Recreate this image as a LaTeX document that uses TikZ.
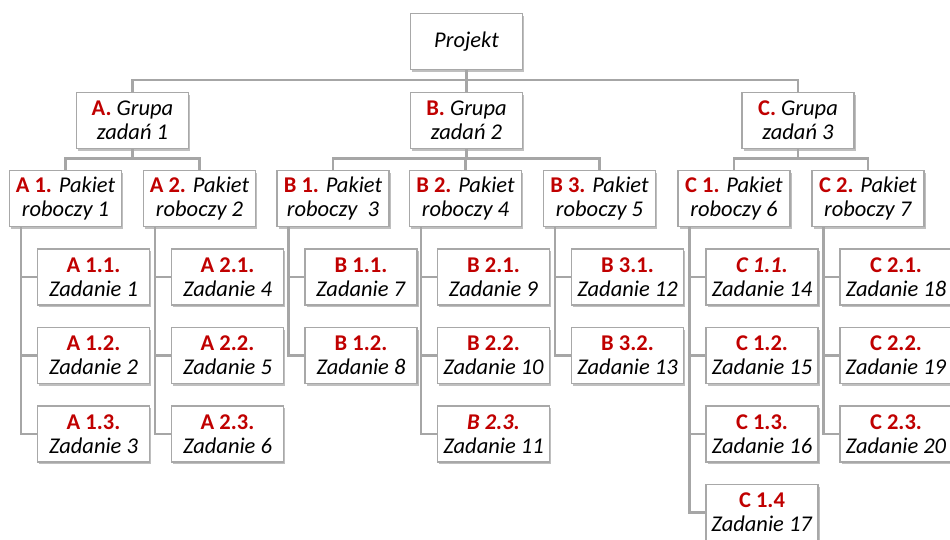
\documentclass[tikz,border=0pt]{standalone}
\usepackage{fontspec}
\setmainfont{Carlito}
\usetikzlibrary{shadows}
\definecolor{wbsred}{RGB}{192,0,0}
\definecolor{wbsline}{RGB}{166,166,166}
\definecolor{wbsborder}{RGB}{168,168,168}
\newcommand{\wbsid}[1]{{\color{wbsred}\bfseries #1}}
\newcommand{\wbsidit}[1]{{\color{wbsred}\bfseries\itshape #1}}
\tikzset{
  box/.style={draw=wbsborder, line width=1.2pt, fill=white,
    minimum width=112pt, minimum height=56pt, inner sep=0pt, align=center,
    font=\fontsize{22.5}{24}\selectfont,
    drop shadow={shadow xshift=1.5pt, shadow yshift=-2pt, opacity=0.25, fill=black}},
  link/.style={draw=wbsline, line width=2.5pt}
}
\begin{document}
\begin{tikzpicture}[x=1pt, y=-1pt]
\useasboundingbox (0,0) rectangle (950,539);

% project root
\node[box] (P) at (466.5,41.5) {\itshape Projekt};

% task groups
\node[box] (GA) at (132.5,120.5) {\wbsid{A.} \textit{Grupa}\\\textit{zadań 1}};
\node[box] (GB) at (466.5,120.5) {\wbsid{B.} \textit{Grupa}\\\textit{zadań 2}};
\node[box] (GC) at (798,120.5) {\wbsid{C.} \textit{Grupa}\\\textit{zadań 3}};

% work packages
\node[box] (A1) at (65.5,198.5) {\wbsid{A 1.} \textit{Pakiet}\\\textit{roboczy 1}};
\node[box] (A2) at (199.5,198.5) {\wbsid{A 2.} \textit{Pakiet}\\\textit{roboczy 2}};
\node[box] (B1) at (333,198.5) {\wbsid{B 1.} \textit{Pakiet}\\\textit{roboczy\ \ 3}};
\node[box] (B2) at (465.5,198.5) {\wbsid{B 2.} \textit{Pakiet}\\\textit{roboczy 4}};
\node[box] (B3) at (599.5,198.5) {\wbsid{B 3.} \textit{Pakiet}\\\textit{roboczy 5}};
\node[box] (C1) at (734,198.5) {\wbsid{C 1.} \textit{Pakiet}\\\textit{roboczy 6}};
\node[box] (C2) at (868,198.5) {\wbsid{C 2.} \textit{Pakiet}\\\textit{roboczy 7}};

% tasks
\node[box] (A11) at (93.5,277) {\wbsid{A 1.1.}\\\textit{Zadanie 1}};
\node[box] (A12) at (93.5,355.5) {\wbsid{A 1.2.}\\\textit{Zadanie 2}};
\node[box] (A13) at (93.5,434) {\wbsid{A 1.3.}\\\textit{Zadanie 3}};
\node[box] (A21) at (227.5,277) {\wbsid{A 2.1.}\\\textit{Zadanie 4}};
\node[box] (A22) at (227.5,355.5) {\wbsid{A 2.2.}\\\textit{Zadanie 5}};
\node[box] (A23) at (227.5,434) {\wbsid{A 2.3.}\\\textit{Zadanie 6}};
\node[box] (B11) at (361,277) {\wbsid{B 1.1.}\\\textit{Zadanie 7}};
\node[box] (B12) at (361,355.5) {\wbsid{B 1.2.}\\\textit{Zadanie 8}};
\node[box] (B21) at (493.5,277) {\wbsid{B 2.1.}\\\textit{Zadanie 9}};
\node[box] (B22) at (493.5,355.5) {\wbsid{B 2.2.}\\\textit{Zadanie 10}};
\node[box] (B23) at (493.5,434) {\wbsidit{B 2.3.}\\\textit{Zadanie 11}};
\node[box] (B31) at (627.5,277) {\wbsid{B 3.1.}\\\textit{Zadanie 12}};
\node[box] (B32) at (627.5,355.5) {\wbsid{B 3.2.}\\\textit{Zadanie 13}};
\node[box] (C11) at (762,277) {\wbsidit{C 1.1.}\\\textit{Zadanie 14}};
\node[box] (C12) at (762,355.5) {\wbsid{C 1.2.}\\\textit{Zadanie 15}};
\node[box] (C13) at (762,434) {\wbsid{C 1.3.}\\\textit{Zadanie 16}};
\node[box] (C14) at (762,512.5) {\wbsid{C 1.4}\\\textit{Zadanie 17}};
\node[box] (C21) at (896,277) {\wbsid{C 2.1.}\\\textit{Zadanie 18}};
\node[box] (C22) at (896,355.5) {\wbsid{C 2.2.}\\\textit{Zadanie 19}};
\node[box] (C23) at (896,434) {\wbsid{C 2.3.}\\\textit{Zadanie 20}};

% root to groups
\foreach \g in {GA,GB,GC}
  \draw[link] (P.south) -- ++(0,10) -| (\g.north);

% groups to packages
\foreach \g/\p in {GA/A1,GA/A2,GB/B1,GB/B2,GB/B3,GC/C1,GC/C2}
  \draw[link] (\g.south) -- ++(0,9.5) -| (\p.north);

% packages to tasks
\foreach \p/\t in {A1/A11,A1/A12,A1/A13,A2/A21,A2/A22,A2/A23,
                   B1/B11,B1/B12,B2/B21,B2/B22,B2/B23,B3/B31,B3/B32,
                   C1/C11,C1/C12,C1/C13,C1/C14,C2/C21,C2/C22,C2/C23}
  \draw[link] ([xshift=-44.5pt]\p.south) |- (\t.west);
\end{tikzpicture}
\end{document}
